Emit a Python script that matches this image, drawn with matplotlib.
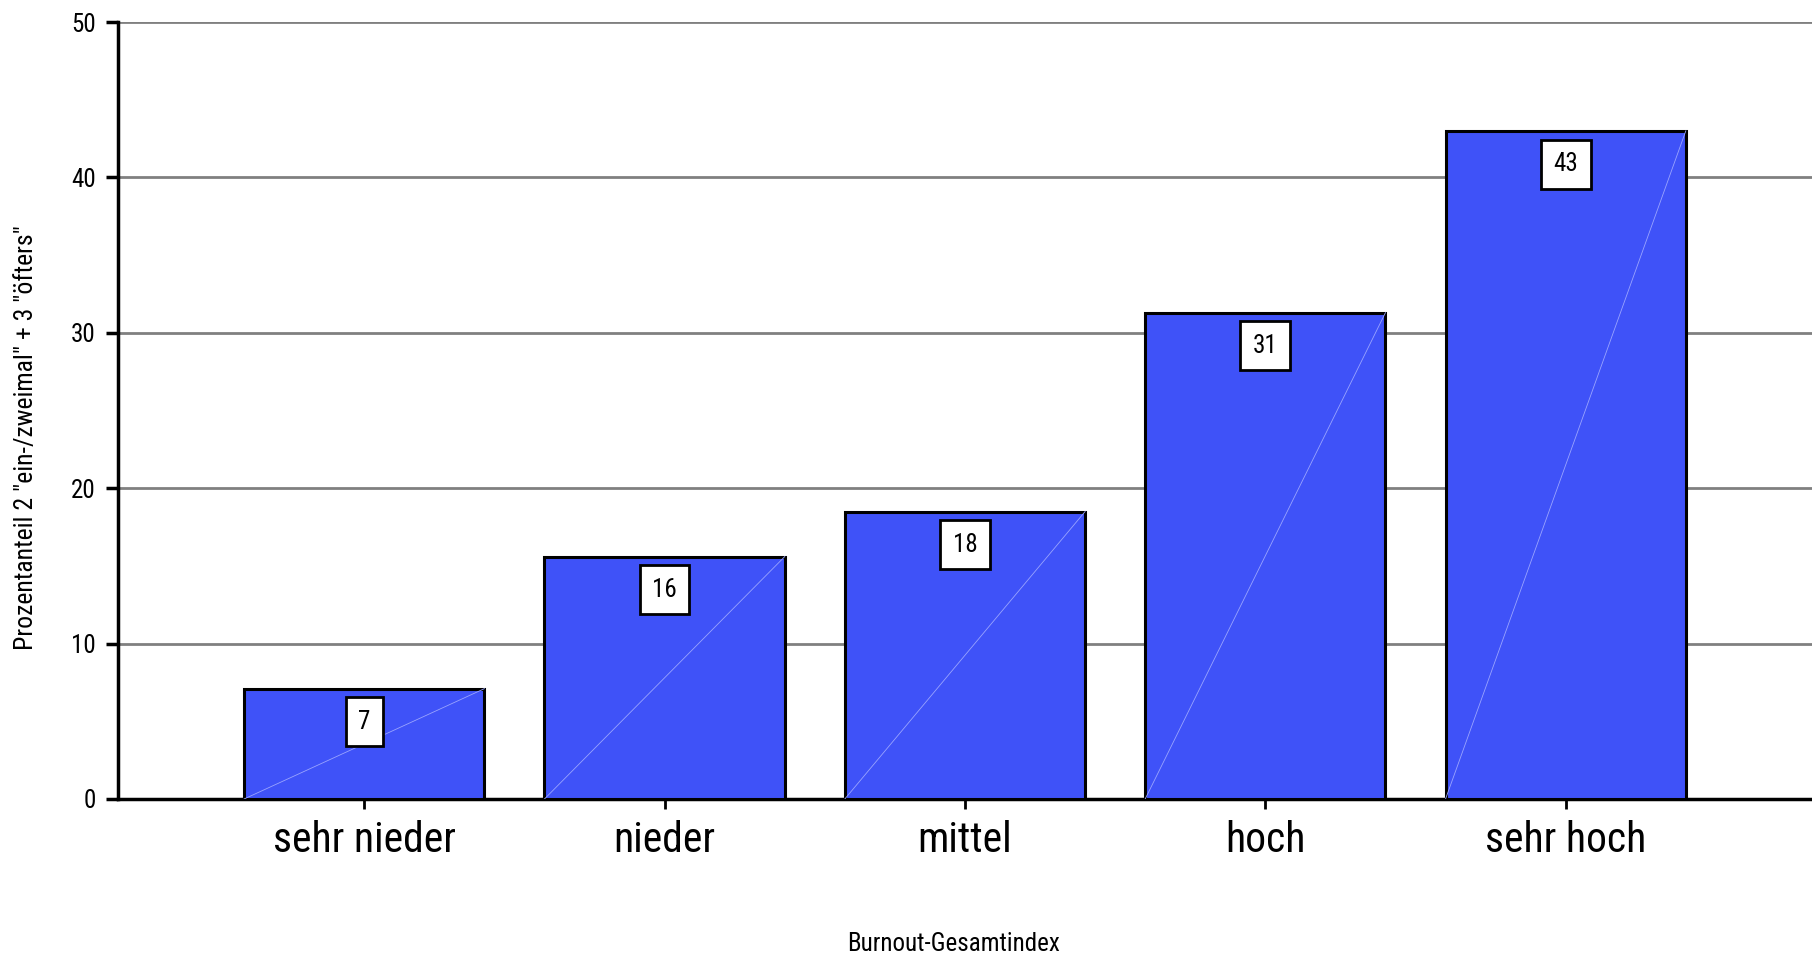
import numpy as np
import matplotlib.pyplot as plt

# Daten
kategorien = ['sehr nieder', 'nieder', 'mittel', 'hoch', 'sehr hoch']
anteile = [7.1, 15.6, 18.5, 31.3, 43.0]
beschriftung = ['7', '16', '18', '31', '43']
y_ticks = [0, 10, 20, 30, 40, 50]

plt.rcParams['font.family'] = ['Roboto Condensed', 'DejaVu Sans']

fig = plt.figure(figsize=(18.12, 9.58), dpi=100)
ax = fig.add_axes([0.0651, 0.166, 0.9349, 0.811])

x = np.arange(len(kategorien))
ax.bar(x, anteile, width=0.8, color='#3F52F8', edgecolor='black',
       linewidth=2.2, zorder=3)

# feine Diagonale in jedem Balken
for xi, h in zip(x, anteile):
    ax.plot([xi - 0.4, xi + 0.4], [0, h], color='#9aa4ff', linewidth=0.6, zorder=4)

# Wertebeschriftung in weissen Kästchen
for xi, h, t in zip(x, anteile, beschriftung):
    ax.annotate(t, xy=(xi, h), xytext=(0, -24), textcoords='offset points',
                ha='center', va='center', fontsize=18, zorder=5,
                bbox=dict(boxstyle='square,pad=0.5', facecolor='white',
                          edgecolor='black', linewidth=2))

ax.set_xlim(-0.82, 4.82)
ax.set_ylim(0, 50)
ax.set_yticks(y_ticks)
ax.set_xticks(x)
ax.set_xticklabels(kategorien, fontsize=30)
ax.tick_params(axis='y', labelsize=18, width=2.5, length=9, direction='out', pad=7)
ax.tick_params(axis='x', width=2, length=7, direction='out', pad=8)

ax.yaxis.grid(True, color='#808080', linewidth=2, zorder=0)
ax.set_axisbelow(True)
for s in ['top', 'right']:
    ax.spines[s].set_visible(False)
ax.spines['left'].set_linewidth(2.5)
ax.spines['bottom'].set_linewidth(2.5)

ax.set_ylabel('Prozentanteil 2 "ein-/zweimal" + 3 "öfters"', fontsize=18.5)
ax.yaxis.set_label_coords(-0.047, 0.465)
fig.text(0.5264, 0.0145, 'Burnout-Gesamtindex', ha='center', va='center', fontsize=18)

plt.savefig('out.png', dpi=100)
